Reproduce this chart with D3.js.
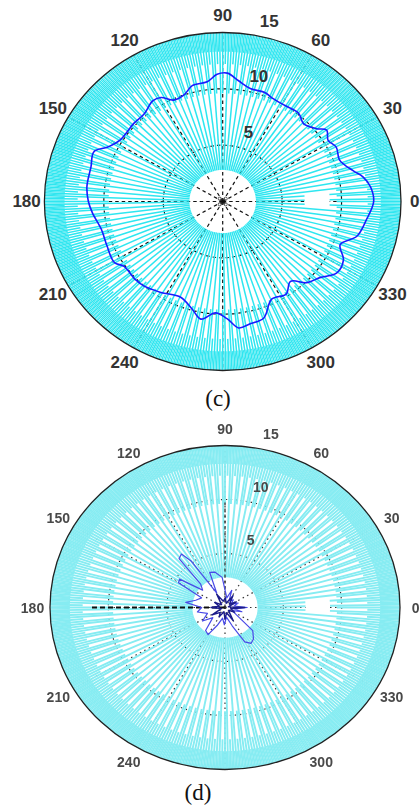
<!DOCTYPE html>
<html><head><meta charset="utf-8">
<script src="https://cdn.jsdelivr.net/npm/d3@7"></script>
<style>html,body{margin:0;padding:0;background:#fff;} svg{display:block}</style>
</head><body>
<svg id="chart" width="420" height="811"></svg>
<script>
// ---------------- data ----------------
const angleTicks = [0, 30, 60, 90, 120, 150, 180, 210, 240, 300, 330];
const angleTickLabels = ["0", "30", "60", "90", "120", "150", "180", "210", "240", "300", "330"];
const gridSpokeAngles = [0, 30, 60, 90, 120, 150, 180, 210, 240, 270, 300, 330];
const radialTicks = [5, 10, 15];
const radialTickLabels = ["5", "10", "15"];
const gridRings = [5, 10];
const rMax = 15;

// cyan series: one radial spoke per degree; start radius repeats over each 3-degree group
const spokeAngles = d3.range(0, 360, 1);
const spokeStarts = [9.6, 2.8, 12.2];
const rimSpokeAngles = d3.range(0.5, 360, 1);
const rimSpokeStart = 13.3;
const spokeGapAngles = [-4.5, 4.5];      // white patch near 0 deg
const spokeGapRadii = [6.9, 9.0];

// (c) blue curve
const cAngles = [0, 6, 10.5, 14, 20.5, 26.8, 31.5, 35.9, 39.3, 45.5, 50.7, 58.4, 66, 69.7, 77, 82.9, 88, 92.4, 97, 104, 109, 114.6, 119.4, 123.4, 130.4, 137, 147.6, 153.4, 157.8, 164.5, 173.4, 180, 185.4, 193.7, 202, 210.8, 214.7, 223.4, 228.7, 237.2, 247.4, 255, 260, 266.5, 272, 276.8, 282, 288.5, 295.4, 303, 308.8, 314.5, 320.4, 326.6, 333, 338.8, 344.7, 352.4];
const cRadii = [12.7, 12.5, 12.0, 11.3, 10.5, 10.7, 10.4, 10.8, 10.2, 9.7, 10.1, 10.0, 10.1, 10.3, 10.3, 10.8, 11.4, 11.3, 10.7, 10.6, 10.0, 9.9, 10.6, 10.7, 10.2, 10.2, 10.2, 10.8, 11.7, 11.5, 11.5, 11.3, 11.0, 10.5, 10.5, 10.6, 10.1, 10.1, 10.0, 9.6, 9.2, 9.9, 10.6, 9.9, 10.4, 11.3, 11.1, 10.9, 9.6, 9.8, 9.1, 10.1, 10.6, 11.5, 11.4, 10.6, 11.7, 12.2];
const cCenterMarkAngles = [45, 135, 225, 315];
const cCenterMarkRadius = 0.35;

// (d) blue curves
const dAngles = [0, 10, 20, 30, 45, 60, 70, 80, 95, 105, 112, 118, 124, 127, 131, 134, 140, 146, 150, 156, 165, 172, 180, 190, 200, 213, 222, 232, 240, 248, 258, 268, 278, 290, 298, 304, 310, 318, 325, 335, 345, 352];
const dRadii = [1.9, 0.8, 1.2, 0.6, 1.0, 0.7, 1.7, 0.9, 2.8, 3.4, 3.5, 1.5, 5.2, 6.2, 6.0, 3.0, 2.5, 4.7, 4.6, 2.2, 2.6, 3.4, 2.0, 2.4, 1.6, 2.3, 1.4, 2.7, 2.9, 1.8, 1.0, 1.6, 0.9, 1.8, 3.6, 4.0, 3.8, 3.2, 1.2, 0.7, 1.5, 0.8];
const dInnerAngles = [0, 12, 28, 40, 58, 75, 88, 104, 120, 138, 152, 166, 180, 197, 212, 228, 240, 257, 270, 286, 300, 318, 332, 347];
const dInnerRadii = [1.7, 0.3, 1.1, 0.5, 1.3, 0.4, 0.9, 0.6, 1.4, 0.4, 1.0, 0.5, 1.2, 0.3, 1.3, 0.6, 1.0, 0.4, 1.1, 0.5, 1.4, 0.4, 0.9, 0.5];
const dAxisLineRadius = 11.6;

const captions = ["(c)", "(d)"];

// ---------------- drawing ----------------
const svg = d3.select("#chart");
svg.append("rect").attr("width", 420).attr("height", 811).attr("fill", "#fff");
const defs = svg.append("defs");
defs.append("filter").attr("id", "soft").attr("x", "-5%").attr("y", "-5%").attr("width", "110%").attr("height", "110%")
  .append("feGaussianBlur").attr("stdDeviation", 0.55);

function drawPolar(opt) {
  const g = svg.append("g");
  if (opt.filter) g.attr("filter", opt.filter);
  const sx = d3.scaleLinear().domain([0, rMax]).range([0, opt.rx]);
  const sy = d3.scaleLinear().domain([0, rMax]).range([0, opt.ry]);
  const px = (a, r) => opt.cx + sx(r) * Math.cos(a * Math.PI / 180);
  const py = (a, r) => opt.cy - sy(r) * Math.sin(a * Math.PI / 180);

  // grid rings
  g.selectAll(".ring").data(gridRings).join("ellipse")
    .attr("cx", opt.cx).attr("cy", opt.cy)
    .attr("rx", d => sx(d)).attr("ry", d => sy(d))
    .attr("fill", "none").attr("stroke", opt.gridColor).attr("stroke-width", 1.2)
    .attr("stroke-dasharray", opt.gridDash);
  // grid spokes
  g.selectAll(".gspoke").data(gridSpokeAngles).join("line")
    .attr("x1", opt.cx).attr("y1", opt.cy)
    .attr("x2", d => px(d, rMax)).attr("y2", d => py(d, rMax))
    .attr("stroke", opt.gridColor).attr("stroke-width", 1.2)
    .attr("stroke-dasharray", opt.gridDash);

  // white gap patch of the cyan series near 0 deg
  const gapPts = [];
  d3.range(spokeGapAngles[0], spokeGapAngles[1] + 0.01, 0.5).forEach(a => gapPts.push([px(a, spokeGapRadii[0]), py(a, spokeGapRadii[0])]));
  d3.range(spokeGapAngles[1], spokeGapAngles[0] - 0.01, -0.5).forEach(a => gapPts.push([px(a, spokeGapRadii[1]), py(a, spokeGapRadii[1])]));
  g.append("polygon").attr("points", gapPts.map(p => p.join(",")).join(" ")).attr("fill", "#fff");

  // cyan spokes
  const segs = [];
  const inGap = a => { const rel = a > 180 ? a - 360 : a; return rel >= spokeGapAngles[0] && rel <= spokeGapAngles[1]; };
  spokeAngles.forEach((a, i) => {
    const s = spokeStarts[i % spokeStarts.length];
    if (inGap(a) && s < spokeGapRadii[0]) {
      segs.push([a, s, spokeGapRadii[0]]);
      segs.push([a, spokeGapRadii[1], rMax]);
    } else if (inGap(a) && s < spokeGapRadii[1]) {
      segs.push([a, spokeGapRadii[1], rMax]);
    } else {
      segs.push([a, s, rMax]);
    }
  });
  g.append("g").selectAll("line").data(segs).join("line")
    .attr("x1", d => px(d[0], d[1])).attr("y1", d => py(d[0], d[1]))
    .attr("x2", d => px(d[0], d[2])).attr("y2", d => py(d[0], d[2]))
    .attr("stroke", opt.spokeColor).attr("stroke-width", opt.spokeWidth);
  g.append("g").selectAll("line").data(rimSpokeAngles).join("line")
    .attr("x1", d => px(d, rimSpokeStart)).attr("y1", d => py(d, rimSpokeStart))
    .attr("x2", d => px(d, rMax)).attr("y2", d => py(d, rMax))
    .attr("stroke", opt.spokeColor).attr("stroke-width", opt.rimWidth);

  // extra axis lines (d)
  if (opt.axisLine) {
    g.append("line")
      .attr("x1", opt.cx).attr("y1", opt.cy)
      .attr("x2", px(180, opt.axisLine)).attr("y2", py(180, opt.axisLine))
      .attr("stroke", "#111").attr("stroke-width", 2).attr("stroke-dasharray", "5,3");
    g.append("line")
      .attr("x1", px(90, 0)).attr("y1", py(90, 0))
      .attr("x2", px(90, 10)).attr("y2", py(90, 10))
      .attr("stroke", "#333").attr("stroke-width", 1.3).attr("stroke-dasharray", "3,3");
  }

  // curves
  opt.curves.forEach(c => {
    const pts = c.angles.map((a, i) => [a, c.radii[i]]);
    const line = d3.line().x(d => px(d[0], d[1])).y(d => py(d[0], d[1])).curve(c.curve);
    g.append("path").attr("d", line(pts)).attr("fill", "none")
      .attr("stroke", c.color).attr("stroke-width", c.width).attr("stroke-linejoin", "round");
  });

  if (opt.centerMarks) {
    g.selectAll(".cm").data(cCenterMarkAngles).join("circle")
      .attr("cx", d => px(d, cCenterMarkRadius)).attr("cy", d => py(d, cCenterMarkRadius))
      .attr("r", 1.6).attr("fill", "none").attr("stroke", "#444").attr("stroke-width", 0.9);
  }

  // outer boundary
  g.append("ellipse").attr("cx", opt.cx).attr("cy", opt.cy)
    .attr("rx", sx(rMax)).attr("ry", sy(rMax))
    .attr("fill", "none").attr("stroke", "#222").attr("stroke-width", 1.3);

  // angle labels
  g.selectAll(".al").data(angleTicks).join("text")
    .attr("x", d => d === 0 ? 419.5 : px(d, rMax * 1.1)).attr("y", d => py(d, rMax * 1.1))
    .attr("text-anchor", d => d === 0 ? "end" : "middle").attr("dominant-baseline", "central")
    .attr("font-family", "Liberation Sans, Arial, sans-serif")
    .attr("font-size", opt.fontSize).attr("font-weight", opt.fontWeight).attr("fill", opt.textColor)
    .text((d, i) => angleTickLabels[i]);
  // radial labels
  g.selectAll(".rl").data(radialTicks).join("text")
    .attr("x", d => px(80, d) + 15.5).attr("y", d => py(80, d) - 14)
    .attr("text-anchor", "middle").attr("dominant-baseline", "central")
    .attr("font-family", "Liberation Sans, Arial, sans-serif")
    .attr("font-size", opt.fontSize).attr("font-weight", opt.fontWeight).attr("fill", opt.textColor)
    .text((d, i) => radialTickLabels[i]);

  svg.append("text").attr("x", opt.capX).attr("y", opt.capY)
    .attr("text-anchor", "middle").attr("font-family", "Liberation Serif, Times New Roman, serif")
    .attr("font-size", 23).attr("fill", "#111").text(opt.caption);
}

drawPolar({
  cx: 222.7, cy: 201.5, rx: 178.3, ry: 169,
  gridColor: "#111", gridDash: "3.5,3",
  spokeColor: "#2ee6f0", spokeWidth: 1.5, rimWidth: 1.0,
  fontSize: 17, fontWeight: "bold", textColor: "#333",
  centerMarks: true,
  curves: [{angles: cAngles, radii: cRadii, color: "#1a1aff", width: 1.6, curve: d3.curveCatmullRomClosed.alpha(0.5)}],
  caption: captions[0], capX: 218, capY: 406
});

drawPolar({
  cx: 225, cy: 607.5, rx: 175, ry: 162,
  gridColor: "#333", gridDash: "1.5,3.5",
  spokeColor: "#86ecf2", spokeWidth: 1.9, rimWidth: 1.3,
  fontSize: 14, fontWeight: "bold", textColor: "#4a4a4a",
  filter: "url(#soft)",
  axisLine: dAxisLineRadius,
  curves: [
    {angles: dAngles, radii: dRadii, color: "#4a4ae6", width: 1.2, curve: d3.curveLinearClosed},
    {angles: dInnerAngles, radii: dInnerRadii, color: "#1a1a8a", width: 1.4, curve: d3.curveLinearClosed}
  ],
  caption: captions[1], capX: 198, capY: 800
});
</script>
</body></html>
